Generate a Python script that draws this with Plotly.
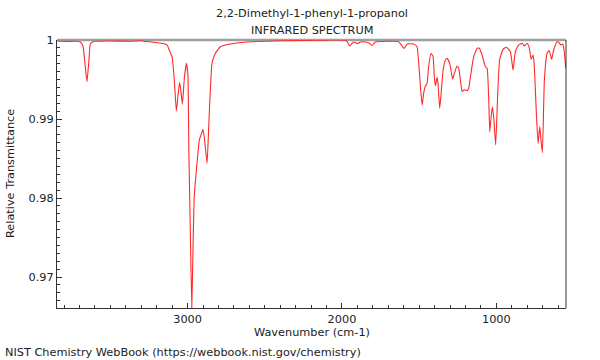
import plotly.graph_objects as go

title_lines = ["2,2-Dimethyl-1-phenyl-1-propanol", "INFRARED SPECTRUM"]
x_label = "Wavenumber (cm-1)"
y_label = "Relative Transmittance"
footer = "NIST Chemistry WebBook (https://webbook.nist.gov/chemistry)"

wavenumber = [
    3844, 3792, 3728, 3695, 3678, 3666, 3652, 3640, 3630, 3611, 3501, 3371, 3306, 3263,
    3209, 3157, 3133, 3119, 3101, 3086, 3073, 3062, 3052, 3044, 3034, 3021, 3008, 2998,
    2992, 2982.5, 2973, 2964, 2957, 2939, 2924, 2911, 2900, 2890, 2874, 2864, 2853, 2842,
    2820, 2788, 2723, 2594, 2380, 2140, 2075, 1978, 1965, 1950, 1936, 1924, 1899, 1881,
    1849, 1826, 1805, 1784, 1751.5, 1633, 1615, 1599, 1578, 1536, 1514, 1503, 1492, 1481,
    1471, 1460, 1449, 1439, 1423, 1410, 1402, 1395, 1384, 1378, 1367, 1356, 1345, 1330,
    1319, 1302.5, 1283, 1272, 1255, 1244, 1233, 1222, 1210.5, 1201, 1190, 1179, 1168, 1147,
    1125, 1110, 1093, 1071, 1060, 1050, 1043, 1034, 1026, 1017.5, 1004.5, 992, 979, 957,
    935, 909, 892, 877, 855.5, 833.5, 819, 801, 786, 775, 762, 754, 741, 730, 719, 713, 702,
    689, 671.5, 657, 642, 629, 607, 594, 583, 570, 559, 551,
]
transmittance = [
    0.99987, 0.99981, 0.99984, 0.99975, 0.99924, 0.99722, 0.99472, 0.99722, 0.99949, 0.99981,
    0.99987, 0.99984, 0.99990, 0.99981, 0.99968, 0.99956, 0.99937, 0.99873, 0.99789, 0.99494,
    0.99101, 0.99304, 0.99460, 0.99367, 0.99190, 0.99519, 0.99705, 0.99557, 0.98608, 0.97595,
    0.96608, 0.97468, 0.98016, 0.98443, 0.98734, 0.98810, 0.98870, 0.98734, 0.98439, 0.98861,
    0.99367, 0.99705, 0.99832, 0.99915, 0.99949, 0.99978, 0.99991, 0.99996, 1.00000, 0.99997,
    0.99975, 0.99924, 0.99956, 0.99975, 0.99953, 0.99975, 0.99975, 0.99962, 0.99933, 0.99975,
    0.99981, 0.99978, 0.99937, 0.99892, 0.99949, 0.99949, 0.99915, 0.99705, 0.99409, 0.99177,
    0.99325, 0.99418, 0.99452, 0.99662, 0.99832, 0.99789, 0.99535, 0.99418, 0.99528, 0.99452,
    0.99135, 0.99367, 0.99620, 0.99747, 0.99768, 0.99705, 0.99503, 0.99578, 0.99671, 0.99642,
    0.99494, 0.99346, 0.99367, 0.99367, 0.99358, 0.99389, 0.99535, 0.99789, 0.99895, 0.99895,
    0.99810, 0.99662, 0.99642, 0.99282, 0.98839, 0.99029, 0.99156, 0.99029, 0.98671, 0.99282,
    0.99747, 0.99882, 0.99908, 0.99852, 0.99620, 0.99852, 0.99937, 0.99958, 0.99924, 0.99958,
    0.99895, 0.99756, 0.99810, 0.99662, 0.99072, 0.98692, 0.98903, 0.98776, 0.98573, 0.99494,
    0.99832, 0.99865, 0.99756, 0.99873, 0.99978, 0.99966, 0.99937, 0.99949, 0.99832, 0.99642,
]

x_tickvals = [3000, 2000, 1000]
x_ticktext = ["3000", "2000", "1000"]
y_tickvals = [0.97, 0.98, 0.99, 1.0]
y_ticktext = ["0.97", "0.98", "0.99", "1"]

FONT = "DejaVu Sans"
TXT = dict(family=FONT, size=11.3, color="#222")

fig = go.Figure()
fig.add_trace(go.Scatter(
    x=wavenumber, y=transmittance, mode="lines",
    line=dict(color="#ff2828", width=1.1, shape="spline", smoothing=0.4),
    hoverinfo="skip", showlegend=False,
))

fig.update_layout(
    width=600, height=360,
    margin=dict(l=57, r=34, t=40, b=52, autoexpand=False),
    paper_bgcolor="white", plot_bgcolor="white",
    font=TXT,
    showlegend=False,
)
fig.update_xaxes(
    range=[3846, 549], showgrid=False, zeroline=False, automargin=False,
    showline=True, linecolor="#333", linewidth=1,
    ticks="inside", ticklen=5, tickcolor="#333",
    tickvals=x_tickvals, ticktext=x_ticktext,
    minor=dict(dtick=100, tick0=0, ticks="inside", ticklen=3, tickcolor="#333", showgrid=False),
    tickfont=TXT,
)
fig.update_yaxes(
    range=[0.96608, 1.0], showgrid=False, zeroline=False, automargin=False,
    showline=True, linecolor="#333", linewidth=1,
    ticks="inside", ticklen=5, tickcolor="#333",
    tickvals=y_tickvals, ticktext=y_ticktext,
    minor=dict(dtick=0.001, tick0=0, ticks="inside", ticklen=3, tickcolor="#333", showgrid=False),
    tickfont=TXT,
)

# frame: gray top, dark right
fig.add_shape(type="line", xref="paper", yref="paper", x0=0, x1=1, y0=1, y1=1,
              line=dict(color="#a0a0a0", width=2.5), layer="below")
fig.add_shape(type="line", xref="paper", yref="paper", x0=1, x1=1, y0=0, y1=1,
              line=dict(color="#333", width=1))

fig.add_annotation(text=title_lines[0], xref="paper", yref="paper", x=0.5, y=1,
                   xanchor="center", yanchor="middle", yshift=27, showarrow=False, font=TXT)
fig.add_annotation(text=title_lines[1], xref="paper", yref="paper", x=0.5, y=1,
                   xanchor="center", yanchor="middle", yshift=10, showarrow=False, font=TXT)
fig.add_annotation(text=x_label, xref="paper", yref="paper", x=0.5, y=0,
                   xanchor="center", yanchor="middle", yshift=-24, showarrow=False, font=TXT)
fig.add_annotation(text=y_label, xref="paper", yref="paper", x=0, y=0.5,
                   xanchor="center", yanchor="middle", xshift=-47, textangle=-90,
                   showarrow=False, font=TXT)
fig.add_annotation(text=footer, xref="paper", yref="paper", x=0, y=0,
                   xanchor="left", yanchor="middle", xshift=-54, yshift=-44,
                   showarrow=False, font=TXT)

fig.write_html("out.html", config={"displayModeBar": False, "staticPlot": True},
               post_script="document.body.style.margin='0';document.body.style.padding='0';")
